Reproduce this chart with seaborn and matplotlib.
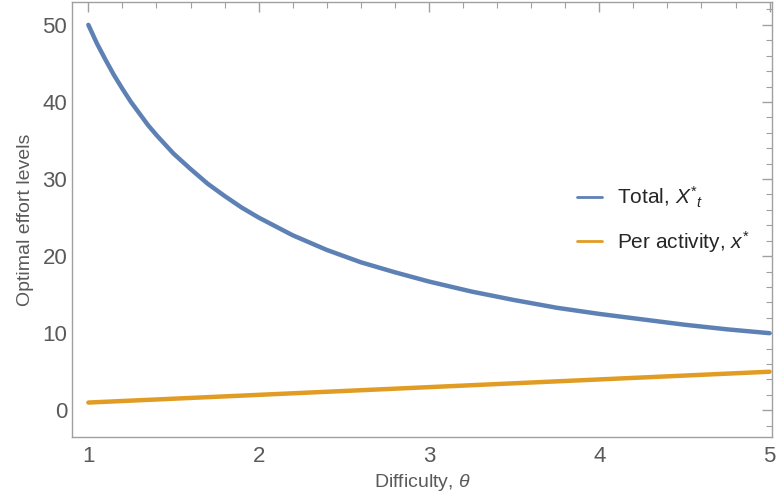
import matplotlib
matplotlib.use("Agg")
import matplotlib.pyplot as plt
import numpy as np
import pandas as pd
import seaborn as sns
from matplotlib.ticker import MultipleLocator

# Values
theta_total = [1.0, 1.05, 1.1, 1.15, 1.2, 1.25, 1.3, 1.35, 1.4, 1.45, 1.5, 1.6,
               1.7, 1.8, 1.9, 2.0, 2.2, 2.4, 2.6, 2.8, 3.0, 3.25, 3.5, 3.75,
               4.0, 4.25, 4.5, 4.75, 5.0]
total = [50.0, 47.6, 45.5, 43.5, 41.7, 40.0, 38.5, 37.0, 35.7, 34.5, 33.3, 31.3,
         29.4, 27.8, 26.3, 25.0, 22.7, 20.8, 19.2, 17.9, 16.7, 15.4, 14.3, 13.3,
         12.5, 11.8, 11.1, 10.5, 10.0]
theta_per = [1.0, 2.0, 3.0, 4.0, 5.0]
per_activity = [1.0, 2.0, 3.0, 4.0, 5.0]
series_names = ["Total, $X^{*}{}_{t}$", "Per activity, $x^{*}$"]
colors = ["#5E81B5", "#E19C24"]

df = pd.concat([
    pd.DataFrame({"theta": theta_total, "value": total, "series": series_names[0]}),
    pd.DataFrame({"theta": theta_per, "value": per_activity, "series": series_names[1]}),
])

sns.set_theme(style="white")
plt.rcParams["font.family"] = ["Liberation Sans", "DejaVu Sans"]
plt.rcParams["mathtext.fontset"] = "custom"
plt.rcParams["mathtext.it"] = "Liberation Sans:italic"
plt.rcParams["mathtext.rm"] = "Liberation Sans"

fig, ax = plt.subplots(figsize=(7.76, 4.98), dpi=100)
sns.lineplot(data=df, x="theta", y="value", hue="series", palette=colors,
             linewidth=3.2, ax=ax, sort=False)

ax.set_xlim(0.905, 5.015)
ax.set_ylim(-3.5, 52.9)
ax.xaxis.set_major_locator(MultipleLocator(1))
ax.xaxis.set_minor_locator(MultipleLocator(0.2))
ax.yaxis.set_major_locator(MultipleLocator(10))
ax.yaxis.set_minor_locator(MultipleLocator(2))

gray = "#5a5a5a"
frame = "#a0a0a0"
for s in ax.spines.values():
    s.set_color(frame)
    s.set_linewidth(1.0)
ax.tick_params(which="both", direction="in", color=frame, top=True, right=True,
               labelcolor=gray, labelsize=16)
ax.tick_params(which="major", length=7, width=1)
ax.tick_params(which="minor", length=4, width=0.8)
ax.tick_params(axis="x", pad=6)

ax.set_xlabel("Difficulty, $\\theta$", fontsize=14, color=gray, labelpad=4)
ax.set_ylabel("Optimal effort levels", fontsize=14, color=gray, labelpad=6)

leg = ax.legend(title=None, frameon=False, loc="center left",
                bbox_to_anchor=(0.695, 0.50), fontsize=15, handlelength=1.2,
                labelspacing=0.9, handletextpad=0.7)
for line in leg.get_lines():
    line.set_linewidth(2)

fig.subplots_adjust(left=0.093, right=0.995, top=0.995, bottom=0.122)
fig.savefig("out.png", dpi=100)
